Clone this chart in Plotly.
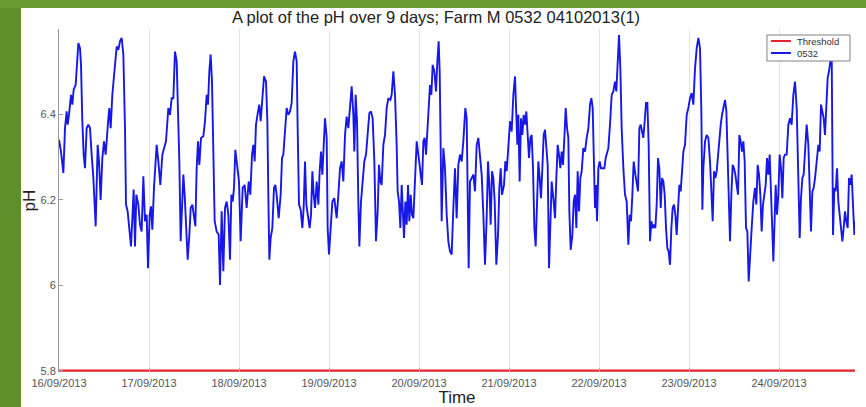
import pandas as pd
import plotly.graph_objects as go

# pH logger readings, sensor 0532: hours elapsed since 16/09/2013 00:00 and pH
hours = [
    0.00, 0.53, 1.16, 1.60, 2.04, 2.31, 2.67, 3.20, 3.56, 3.91, 4.44, 4.80, 5.16, 5.60, 5.87,
    6.22, 6.58, 6.93, 7.38, 7.82, 8.27, 8.71, 9.16, 9.78, 10.31, 10.67, 11.11, 11.56, 12.00,
    12.44, 12.71, 13.16, 13.42, 13.78, 14.22, 14.58, 14.93, 15.38, 15.82, 16.27, 16.71, 17.16,
    17.60, 17.87, 18.31, 18.76, 19.20, 19.56, 19.91, 20.27, 20.62, 21.16, 21.60, 22.04, 22.49,
    22.93, 23.38, 23.73, 24.18, 24.53, 24.89, 25.33, 25.78, 26.04, 26.49, 27.02, 27.56, 28.09,
    28.53, 29.16, 29.60, 30.04,
    30.49, 30.93, 31.38, 31.73, 32.09, 32.44, 32.89, 33.16, 33.51, 33.87, 34.31, 34.76, 35.11,
    35.56, 36.00, 36.36, 36.71, 37.07, 37.42, 37.87, 38.49, 38.93, 39.38, 39.73, 40.09, 40.44,
    40.80, 41.16, 41.51, 42.04, 42.58, 42.93, 43.38, 43.82, 44.27, 44.71, 45.16, 45.60, 45.96,
    46.31, 46.67, 47.02, 47.56, 48.00, 48.44, 48.98, 49.51, 50.04, 50.58, 51.02, 51.47, 51.82,
    52.18, 52.53, 53.07, 53.42, 53.78, 54.22, 54.67, 55.20, 55.56, 55.82, 56.09, 56.44, 56.89,
    57.33, 57.69, 58.04, 58.58, 59.11, 59.47, 59.82, 60.27, 60.71,
    61.16, 61.60, 62.04, 62.49, 62.93, 63.38, 63.64, 64.00, 64.44, 64.89, 65.24, 65.60, 65.96,
    66.40, 66.84, 67.20, 67.56, 67.91, 68.27, 68.71, 69.16, 69.51, 69.87, 70.22, 70.58, 70.93,
    71.38, 71.64, 72.00, 72.36, 72.89, 73.42, 74.04, 74.49, 74.93, 75.38, 75.82, 76.27, 76.71,
    77.16, 77.60, 78.04, 78.49, 78.76, 79.11, 79.47, 79.82, 80.09, 80.53, 80.98, 81.42, 81.87,
    82.31, 82.76, 83.20, 83.64, 84.09, 84.53, 84.98, 85.33, 85.69, 86.04, 86.49, 86.93, 87.38,
    87.82, 88.36, 88.71, 89.16, 89.60, 90.04, 90.31, 90.67, 91.02, 91.38, 91.82,
    92.00, 92.36, 92.71, 93.07, 93.42, 93.78, 94.13, 94.49, 94.93, 95.38, 95.82, 96.27, 96.80,
    97.16, 97.51, 97.87, 98.22, 98.58, 98.93, 99.29, 99.64, 100.09, 100.53, 100.89, 101.24,
    101.51, 101.78, 102.04, 102.49, 102.93, 103.38, 103.82, 104.27, 104.71, 105.16, 105.60,
    106.04, 106.49, 106.93, 107.38, 107.82, 108.35, 108.71, 108.98, 109.24, 109.60, 110.04,
    110.49, 110.93, 111.38, 111.82, 112.27, 112.71, 113.16, 113.60, 114.04, 114.40, 114.75,
    115.11, 115.47, 115.82, 116.18, 116.62, 117.07, 117.42, 117.78, 118.13, 118.67, 119.02,
    119.38, 119.82, 120.27, 120.71, 121.16, 121.60,
    121.96, 122.22, 122.49, 122.84, 123.20, 123.56, 123.91, 124.27, 124.62, 124.98, 125.33,
    125.69, 126.04, 126.40, 126.76, 127.11, 127.47, 127.82, 128.18, 128.53, 128.89, 129.24,
    129.60, 129.96, 130.31, 130.67, 131.02, 131.38, 131.82, 132.27, 132.62, 132.98, 133.33,
    133.69, 134.04, 134.40, 134.76, 135.11, 135.47, 135.82, 136.09, 136.44, 136.89, 137.24,
    137.60, 137.96, 138.31, 138.67, 139.02, 139.38, 139.82, 140.27, 140.71, 141.16, 141.60,
    141.96, 142.31, 142.58, 142.93, 143.20, 143.47, 143.82, 144.18, 144.53, 144.98, 145.42,
    145.78, 146.13, 146.49, 146.93, 147.38, 147.82, 148.27, 148.62, 148.98, 149.33, 149.69,
    150.04, 150.49, 150.93, 151.38, 151.82, 152.18, 152.53, 152.89, 153.24,
    153.69, 154.04, 154.40, 154.76, 155.11, 155.47, 155.82, 156.18, 156.53, 156.89, 157.24,
    157.60, 157.96, 158.31, 158.67, 159.02, 159.38, 159.73, 160.09, 160.45, 160.80, 161.16,
    161.51, 161.87, 162.22, 162.58, 162.93, 163.29, 163.64, 164.00, 164.36, 164.71, 165.07,
    165.42, 165.78, 166.13, 166.49, 166.93, 167.38, 167.82, 168.27, 168.71, 169.16, 169.60,
    170.05, 170.49, 170.93, 171.29, 171.56, 171.82, 172.27, 172.71, 173.16, 173.60, 173.96,
    174.31, 174.67, 175.02, 175.38, 175.73, 176.09, 176.45, 176.80, 177.16, 177.60, 177.96,
    178.22, 178.58, 178.93, 179.29, 179.64, 180.00, 180.36, 180.71, 181.07, 181.42, 181.78,
    182.13, 182.49, 182.84, 183.20, 183.56, 183.91,
    184.71, 185.15, 185.60, 185.95, 186.31, 186.66, 187.02, 187.37, 187.73, 188.09, 188.44,
    188.80, 189.15, 189.51, 189.86, 190.22, 190.49, 190.75, 191.11, 191.46, 191.82, 192.17,
    192.53, 192.89, 193.24, 193.60, 194.04, 194.49, 194.93, 195.37, 195.82, 196.26, 196.71,
    197.15, 197.51, 197.86, 198.22, 198.57, 198.93, 199.37, 199.82, 200.17, 200.53, 200.89,
    201.24, 201.60, 202.04, 202.49, 202.84, 203.20, 203.55, 203.91, 204.26, 204.62, 204.97,
    205.33, 205.69, 206.04, 206.40, 206.75, 207.11, 207.46, 207.82, 208.18, 208.53, 208.89,
    209.24, 209.60, 209.95, 210.31, 210.66, 211.02, 211.37, 211.73, 212.09, 212.26,
]

ph = [
    6.341, 6.313, 6.263, 6.368, 6.407, 6.376, 6.399, 6.446, 6.423, 6.458, 6.469, 6.532, 6.567, 6.555, 6.516,
    6.384, 6.306, 6.274, 6.368, 6.376, 6.368, 6.306, 6.251, 6.138, 6.329, 6.290, 6.200, 6.298, 6.337,
    6.306, 6.345, 6.391, 6.415, 6.368, 6.446, 6.485, 6.524, 6.559, 6.551, 6.571, 6.579, 6.540,
    6.368, 6.189, 6.173, 6.126, 6.091, 6.157, 6.224, 6.091, 6.212, 6.189, 6.142, 6.126, 6.255,
    6.150, 6.165, 6.040, 6.165, 6.185, 6.130, 6.228, 6.306, 6.329, 6.290, 6.235, 6.306, 6.321,
    6.337, 6.415, 6.399, 6.438,
    6.438, 6.547, 6.524, 6.407, 6.290, 6.103, 6.212, 6.259, 6.212, 6.134, 6.060, 6.118, 6.181,
    6.189, 6.165, 6.138, 6.274, 6.337, 6.282, 6.345, 6.349, 6.384, 6.446, 6.423, 6.501, 6.540,
    6.477, 6.298, 6.150, 6.126, 6.118, 6.001, 6.173, 6.033, 6.181, 6.196, 6.165, 6.060, 6.212,
    6.196, 6.228, 6.317, 6.274, 6.243, 6.103, 6.228, 6.235, 6.181, 6.243, 6.212, 6.306, 6.329,
    6.290, 6.376, 6.407, 6.423, 6.384, 6.446, 6.489, 6.477, 6.384, 6.212, 6.060, 6.111, 6.134,
    6.228, 6.235, 6.212, 6.157, 6.212, 6.298, 6.306, 6.368, 6.415,
    6.399, 6.407, 6.427, 6.524, 6.547, 6.524, 6.368, 6.189, 6.177, 6.134, 6.181, 6.290, 6.189,
    6.165, 6.134, 6.165, 6.267, 6.212, 6.181, 6.243, 6.189, 6.267, 6.313, 6.259, 6.321, 6.391,
    6.345, 6.134, 6.072, 6.134, 6.196, 6.204, 6.157, 6.212, 6.274, 6.290, 6.243, 6.352, 6.395,
    6.368, 6.423, 6.466, 6.399, 6.313, 6.446, 6.384, 6.196, 6.091, 6.196, 6.251, 6.290, 6.306,
    6.360, 6.403, 6.407, 6.391, 6.290, 6.103, 6.173, 6.282, 6.243, 6.235, 6.329, 6.352, 6.415,
    6.438, 6.434, 6.446, 6.501, 6.446, 6.329, 6.220, 6.196, 6.134, 6.235, 6.150,
    6.111, 6.196, 6.142, 6.235, 6.150, 6.212, 6.165, 6.157, 6.251, 6.337, 6.306, 6.274, 6.235,
    6.337, 6.345, 6.306, 6.368, 6.438, 6.469, 6.446, 6.516, 6.501, 6.454, 6.524, 6.571,
    6.501, 6.345, 6.150, 6.321, 6.274, 6.165, 6.103, 6.079, 6.072, 6.181, 6.274,
    6.157, 6.282, 6.306, 6.290, 6.337, 6.415, 6.391, 6.251, 6.040, 6.243, 6.251,
    6.259, 6.220, 6.329, 6.345, 6.306, 6.259, 6.165, 6.048, 6.157, 6.290, 6.235,
    6.142, 6.267, 6.251, 6.196, 6.048, 6.118, 6.228, 6.274, 6.212, 6.235, 6.290,
    6.267, 6.329, 6.384, 6.360, 6.446, 6.489,
    6.407, 6.329, 6.399, 6.243, 6.391, 6.352, 6.399, 6.376, 6.407, 6.345, 6.298,
    6.345, 6.352, 6.274, 6.134, 6.091, 6.212, 6.290, 6.251, 6.204, 6.274, 6.352,
    6.364, 6.313, 6.282, 6.040, 6.134, 6.243, 6.204, 6.157, 6.251, 6.329, 6.306,
    6.274, 6.313, 6.282, 6.345, 6.415, 6.368, 6.345, 6.173, 6.083, 6.118, 6.196,
    6.212, 6.134, 6.267, 6.173, 6.251, 6.267, 6.321, 6.313, 6.345, 6.368, 6.423,
    6.438, 6.415, 6.290, 6.181, 6.235, 6.150, 6.274, 6.290, 6.274, 6.274, 6.274,
    6.298, 6.313, 6.321, 6.376, 6.446, 6.454, 6.477, 6.454, 6.524, 6.586, 6.508,
    6.368, 6.274, 6.212, 6.196, 6.095, 6.165, 6.150, 6.212, 6.290,
    6.259, 6.235, 6.220, 6.368, 6.376, 6.360, 6.345, 6.384, 6.427, 6.427, 6.329,
    6.103, 6.150, 6.134, 6.142, 6.134, 6.189, 6.298, 6.274, 6.181, 6.251, 6.243,
    6.212, 6.134, 6.087, 6.079, 6.048, 6.134, 6.181, 6.189, 6.165, 6.118, 6.196,
    6.235, 6.220, 6.274, 6.313, 6.329, 6.399, 6.415, 6.438, 6.450, 6.423, 6.508,
    6.555, 6.579, 6.555, 6.407, 6.177, 6.274, 6.337, 6.352, 6.345, 6.290, 6.212,
    6.150, 6.267, 6.251, 6.267, 6.306, 6.345, 6.376, 6.399, 6.415, 6.434, 6.407,
    6.313, 6.173, 6.103, 6.212, 6.282, 6.274, 6.259, 6.235, 6.212, 6.352, 6.337,
    6.313, 6.337, 6.290, 6.134, 6.126, 6.009,
    6.134, 6.196, 6.228, 6.189, 6.282, 6.259, 6.212, 6.126, 6.189, 6.212, 6.235,
    6.298, 6.259, 6.306, 6.235, 6.126, 6.056, 6.165, 6.235, 6.165, 6.212, 6.306,
    6.274, 6.204, 6.298, 6.306, 6.306, 6.376, 6.391, 6.376, 6.446, 6.477, 6.415,
    6.251, 6.111, 6.204, 6.251, 6.259, 6.321, 6.376, 6.329, 6.212, 6.126, 6.220,
    6.228, 6.251, 6.290, 6.329, 6.313, 6.423, 6.407, 6.391, 6.352, 6.446, 6.485,
    6.501, 6.524, 6.547, 6.118, 6.228, 6.220, 6.274, 6.196, 6.165, 6.134, 6.103,
    6.134, 6.173, 6.150, 6.134, 6.251, 6.235, 6.259, 6.189, 6.118, 6.150,
]

assert len(hours) == len(ph)

start = pd.Timestamp("2013-09-16 00:00")
times = start + pd.to_timedelta(hours, unit="h")
end = times[-1]

threshold = 5.8
y_ticks = [5.8, 6.0, 6.2, 6.4]
y_tick_text = ["5.8", "6", "6.2", "6.4"]

series_names = ["Threshold", "0532"]
series_colors = ["#e5232e", "#1717e8"]

fig = go.Figure()
fig.add_trace(go.Scatter(
    x=[start, end], y=[threshold, threshold], mode="lines", name=series_names[0],
    line=dict(color=series_colors[0], width=2.2), showlegend=False,
))
fig.add_trace(go.Scatter(
    x=times, y=ph, mode="lines", name=series_names[1],
    line=dict(color=series_colors[1], width=1.9), showlegend=False,
))

tick_font = dict(family="Liberation Sans, Arial, sans-serif", size=11, color="#555555")

# compact boxed key in the upper-right corner of the axes
key_shapes = [
    dict(type="rect", xref="paper", yref="paper",
         x0=0.8894, x1=0.9937, y0=0.9067, y1=0.9825,
         fillcolor="white", line=dict(color="#808080", width=1), layer="above"),
]
key_notes = []
for row, (name, color) in enumerate(zip(series_names, series_colors)):
    yk = 0.9650 - row * 0.0350
    key_shapes.append(dict(type="line", xref="paper", yref="paper",
                           x0=0.8945, x1=0.9195, y0=yk, y1=yk,
                           line=dict(color=color, width=2), layer="above"))
    key_notes.append(dict(text=name, xref="paper", yref="paper", x=0.9240, y=yk,
                          xanchor="left", yanchor="middle", showarrow=False,
                          font=dict(size=9.5, color="#333333")))

fig.update_layout(
    width=866, height=407,
    margin=dict(l=59, r=11, t=29, b=35),
    paper_bgcolor="white",
    plot_bgcolor="white",
    font=dict(family="Liberation Sans, Arial, sans-serif", color="#222222"),
    title=dict(
        text="A plot of the pH over 9 days; Farm M 0532 04102013(1)",
        x=0.4736, xref="paper", xanchor="center",
        y=1 - 17 / 407, yref="container", yanchor="middle",
        font=dict(size=16.5, color="#222222"),
    ),
    showlegend=False,
    xaxis=dict(
        type="date",
        range=[start, end],
        tick0=start, dtick=86400000,
        tickformat="%d/%m/%Y",
        showgrid=True, gridcolor="#e3e3e3", gridwidth=1,
        ticks="inside", ticklen=4, tickcolor="#aaaaaa",
        showline=False, zeroline=False,
        tickfont=tick_font, ticklabelstandoff=3,
        automargin=False,
        title=dict(text="Time", font=dict(size=17, color="#222222"), standoff=6),
    ),
    yaxis=dict(
        range=[5.797, 6.6],
        tickvals=y_ticks, ticktext=y_tick_text,
        showgrid=False, zeroline=False,
        showline=True, linecolor="#999999", linewidth=1,
        ticks="inside", ticklen=4, tickcolor="#999999",
        tickfont=tick_font,
        automargin=False,
        title=dict(text="pH", font=dict(size=17, color="#222222"), standoff=0),
    ),
    shapes=[
        # green slide border on the left and along the top
        dict(type="rect", xref="paper", yref="paper",
             x0=-59 / 796, x1=-38 / 796, y0=-35 / 343, y1=378 / 343,
             fillcolor="#5f8f2b", line=dict(width=0), layer="below"),
        dict(type="rect", xref="paper", yref="paper",
             x0=-59 / 796, x1=807 / 796, y0=364 / 343, y1=378 / 343,
             fillcolor="#6a9a32", line=dict(width=0), layer="below"),
    ] + key_shapes,
    annotations=key_notes,
)

fig.write_html("out.html")
